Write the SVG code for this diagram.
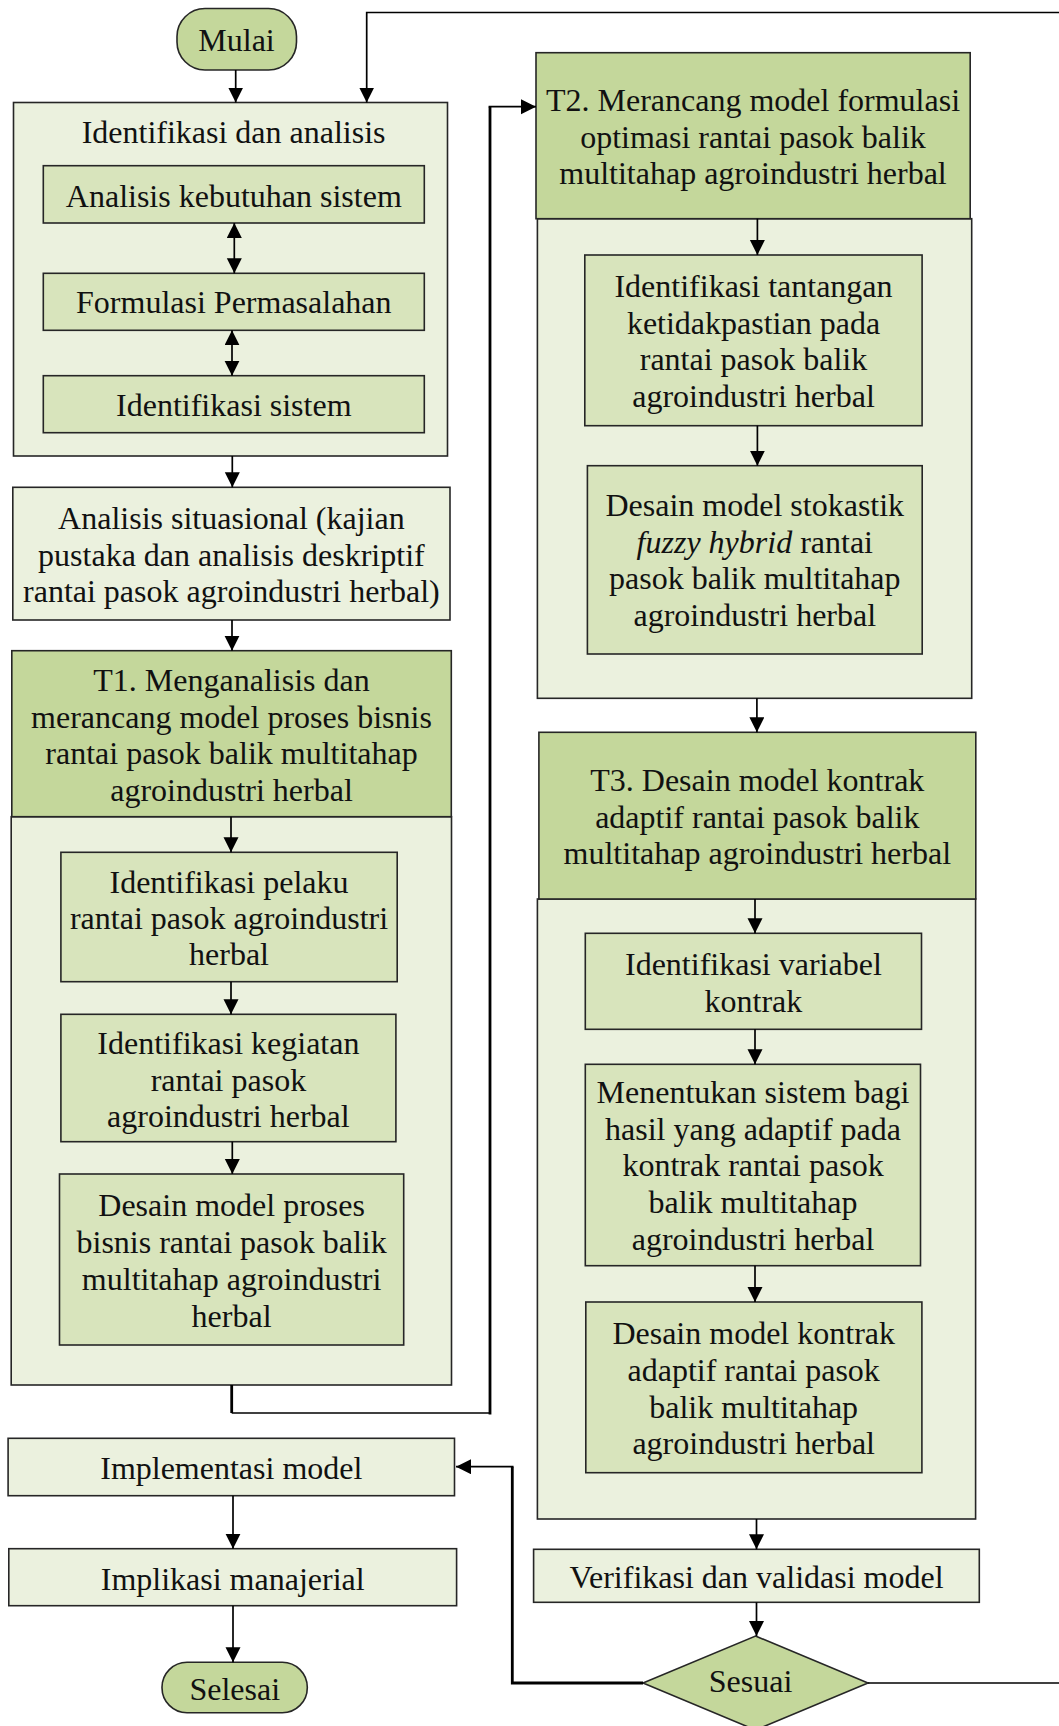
<svg xmlns="http://www.w3.org/2000/svg" width="1059" height="1726" viewBox="0 0 1059 1726">
  <style>
    .light { fill: #ebf1de; stroke: #262626; stroke-width: 1.6; }
    .mid { fill: #d8e4bc; stroke: #262626; stroke-width: 1.6; }
    .dark { fill: #c4d79b; stroke: #262626; stroke-width: 1.6; }
    text { font-family: "Liberation Serif", "Times New Roman", serif; font-size: 32px; fill: #111; text-anchor: middle; }
    .conn { fill: none; stroke: #000; stroke-width: 1.7; }
    .thick { fill: none; stroke: #000; stroke-width: 2.8; }
  </style>
  <defs>
    <marker id="arrow" markerUnits="userSpaceOnUse" markerWidth="16" markerHeight="16" refX="15" refY="7.5" orient="auto">
      <path d="M0,0 L15,7.5 L0,15 z" fill="#000"/>
    </marker>
    <marker id="arrow2" markerUnits="userSpaceOnUse" markerWidth="16" markerHeight="16" refX="15" refY="7.5" orient="auto-start-reverse">
      <path d="M0,0 L15,7.5 L0,15 z" fill="#000"/>
    </marker>
  </defs>

  <rect width="1059" height="1726" fill="#fff"/>

  <!-- start -->
  <g id="mulai">
    <rect class="dark" x="177" y="8.5" width="119.5" height="61.5" rx="28"/>
    <text x="236.5" y="51">Mulai</text>
  </g>

  <!-- identification and analysis group -->
  <g id="identifikasi-analisis">
    <rect class="light" x="13.5" y="102.5" width="434" height="353.5"/>
    <text x="233.6" y="142.5">Identifikasi dan analisis</text>
  </g>
  <g id="analisis-kebutuhan">
    <rect class="mid" x="43.3" y="165.7" width="381" height="57.3"/>
    <text x="233.8" y="206.5">Analisis kebutuhan sistem</text>
  </g>
  <g id="formulasi-permasalahan">
    <rect class="mid" x="43.3" y="273.3" width="381" height="57"/>
    <text x="233.8" y="313.2">Formulasi Permasalahan</text>
  </g>
  <g id="identifikasi-sistem">
    <rect class="mid" x="43.3" y="375.7" width="381" height="57"/>
    <text x="233.8" y="416">Identifikasi sistem</text>
  </g>

  <g id="analisis-situasional">
    <rect class="light" x="12.8" y="487.3" width="437.2" height="132.7"/>
    <text x="231.4" y="529.3">Analisis situasional (kajian</text>
    <text x="231.4" y="565.6">pustaka dan analisis deskriptif</text>
    <text x="231.4" y="602">rantai pasok agroindustri herbal)</text>
  </g>

  <!-- T1 -->
  <g id="t1">
    <rect class="light" x="11.2" y="816.7" width="440.3" height="568.3"/>
    <rect class="dark" x="11.8" y="650.7" width="439.5" height="166"/>
    <text x="231.5" y="691">T1. Menganalisis dan</text>
    <text x="231.5" y="727.7">merancang model proses bisnis</text>
    <text x="231.5" y="764.3">rantai pasok balik multitahap</text>
    <text x="231.5" y="801">agroindustri herbal</text>
  </g>
  <g id="t1-pelaku">
    <rect class="mid" x="60.9" y="852.3" width="336.3" height="129.4"/>
    <text x="229" y="892.7">Identifikasi pelaku</text>
    <text x="229" y="929.3">rantai pasok agroindustri</text>
    <text x="229" y="964.5">herbal</text>
  </g>
  <g id="t1-kegiatan">
    <rect class="mid" x="60.9" y="1014.3" width="335" height="127.4"/>
    <text x="228.4" y="1053.7">Identifikasi kegiatan</text>
    <text x="228.4" y="1090.5">rantai pasok</text>
    <text x="228.4" y="1126.5">agroindustri herbal</text>
  </g>
  <g id="t1-desain">
    <rect class="mid" x="59.5" y="1174" width="344.2" height="171"/>
    <text x="231.6" y="1216">Desain model proses</text>
    <text x="231.6" y="1252.7">bisnis rantai pasok balik</text>
    <text x="231.6" y="1290">multitahap agroindustri</text>
    <text x="231.6" y="1327">herbal</text>
  </g>

  <!-- T2 -->
  <g id="t2">
    <rect class="light" x="537.4" y="218.7" width="434.3" height="479.6"/>
    <rect class="dark" x="536" y="52.7" width="434.2" height="166"/>
    <text x="753" y="111">T2. Merancang model formulasi</text>
    <text x="753" y="147.7">optimasi rantai pasok balik</text>
    <text x="753" y="184.3">multitahap agroindustri herbal</text>
  </g>
  <g id="t2-tantangan">
    <rect class="mid" x="584.8" y="255" width="337.3" height="170.7"/>
    <text x="753.5" y="297">Identifikasi tantangan</text>
    <text x="753.5" y="333.7">ketidakpastian pada</text>
    <text x="753.5" y="370.3">rantai pasok balik</text>
    <text x="753.5" y="407">agroindustri herbal</text>
  </g>
  <g id="t2-stokastik">
    <rect class="mid" x="587.4" y="465.7" width="334.8" height="188.3"/>
    <text x="754.8" y="516">Desain model stokastik</text>
    <text x="754.8" y="552.7"><tspan font-style="italic">fuzzy hybrid</tspan> rantai</text>
    <text x="754.8" y="589.3">pasok balik multitahap</text>
    <text x="754.8" y="626">agroindustri herbal</text>
  </g>

  <!-- T3 -->
  <g id="t3">
    <rect class="light" x="537.4" y="899" width="438.2" height="620"/>
    <rect class="dark" x="538.9" y="732.3" width="436.9" height="166.7"/>
    <text x="757.3" y="791">T3. Desain model kontrak</text>
    <text x="757.3" y="827.7">adaptif rantai pasok balik</text>
    <text x="757.3" y="864.3">multitahap agroindustri herbal</text>
  </g>
  <g id="t3-variabel">
    <rect class="mid" x="585.3" y="933.3" width="336.2" height="96"/>
    <text x="753.4" y="974.5">Identifikasi variabel</text>
    <text x="753.4" y="1011.7">kontrak</text>
  </g>
  <g id="t3-bagi-hasil">
    <rect class="mid" x="585.3" y="1064.3" width="335.2" height="201.4"/>
    <text x="753" y="1102.9">Menentukan sistem bagi</text>
    <text x="753" y="1139.5">hasil yang adaptif pada</text>
    <text x="753" y="1176.2">kontrak rantai pasok</text>
    <text x="753" y="1212.9">balik multitahap</text>
    <text x="753" y="1249.5">agroindustri herbal</text>
  </g>
  <g id="t3-desain">
    <rect class="mid" x="585.8" y="1302" width="336.1" height="170.7"/>
    <text x="753.7" y="1343.8">Desain model kontrak</text>
    <text x="753.7" y="1380.5">adaptif rantai pasok</text>
    <text x="753.7" y="1417.5">balik multitahap</text>
    <text x="753.7" y="1454.3">agroindustri herbal</text>
  </g>

  <g id="verifikasi">
    <rect class="light" x="533.6" y="1549.3" width="445.7" height="53"/>
    <text x="756.5" y="1588">Verifikasi dan validasi model</text>
  </g>
  <g id="sesuai">
    <polygon class="dark" points="755.5,1636 868,1683 755.5,1730 643,1683"/>
    <text x="750.5" y="1692">Sesuai</text>
  </g>

  <g id="implementasi">
    <rect class="light" x="8.1" y="1438.3" width="446.4" height="57.4"/>
    <text x="231.3" y="1479.3">Implementasi model</text>
  </g>
  <g id="implikasi">
    <rect class="light" x="8.8" y="1548.7" width="447.8" height="57"/>
    <text x="232.7" y="1590.3">Implikasi manajerial</text>
  </g>
  <g id="selesai">
    <rect class="dark" x="162" y="1662.3" width="145.3" height="50.4" rx="25"/>
    <text x="234.7" y="1699.7">Selesai</text>
  </g>

  <!-- connectors -->
  <g id="connectors">
    <path class="conn" d="M235.7,70 V102.5" marker-end="url(#arrow)"/>
    <path class="conn" stroke-width="2.2" d="M1059,12.5 H366.7 V102.5" marker-end="url(#arrow)"/>
    <path class="conn" d="M234.3,223 V273.3" marker-start="url(#arrow2)" marker-end="url(#arrow2)"/>
    <path class="conn" d="M232,330.3 V375.7" marker-start="url(#arrow2)" marker-end="url(#arrow2)"/>
    <path class="conn" d="M232.3,456 V487.3" marker-end="url(#arrow)"/>
    <path class="conn" d="M232,620 V650.7" marker-end="url(#arrow)"/>
    <path class="conn" d="M231,816.7 V852.3" marker-end="url(#arrow)"/>
    <path class="conn" d="M231,981.7 V1014.3" marker-end="url(#arrow)"/>
    <path class="conn" d="M232.3,1141.7 V1174" marker-end="url(#arrow)"/>
    <path class="thick" d="M231.7,1385 V1413"/>
    <path class="conn" d="M231.7,1413 H490"/>
    <path class="thick" d="M490,1414.5 V106.7"/>
    <path class="conn" d="M488.6,106.7 H536" marker-end="url(#arrow)"/>
    <path class="conn" d="M757.4,218.7 V255" marker-end="url(#arrow)"/>
    <path class="conn" d="M757.4,425.7 V465.7" marker-end="url(#arrow)"/>
    <path class="conn" d="M756.9,698.3 V732.3" marker-end="url(#arrow)"/>
    <path class="conn" d="M755,899 V933.3" marker-end="url(#arrow)"/>
    <path class="conn" d="M755,1029.3 V1064.3" marker-end="url(#arrow)"/>
    <path class="conn" d="M755,1265.7 V1302" marker-end="url(#arrow)"/>
    <path class="conn" d="M756.5,1519 V1549.3" marker-end="url(#arrow)"/>
    <path class="conn" d="M756.5,1602.3 V1636" marker-end="url(#arrow)"/>
    <path class="thick" d="M643,1683 H512.3 V1466.7"/>
    <path class="conn" d="M513.5,1466.7 H456" marker-end="url(#arrow)"/>
    <path class="conn" stroke-width="2.2" d="M868,1683 H1059"/>
    <path class="conn" d="M233,1495.7 V1548.7" marker-end="url(#arrow)"/>
    <path class="conn" d="M233,1605.7 V1662.3" marker-end="url(#arrow)"/>
  </g>
</svg>
